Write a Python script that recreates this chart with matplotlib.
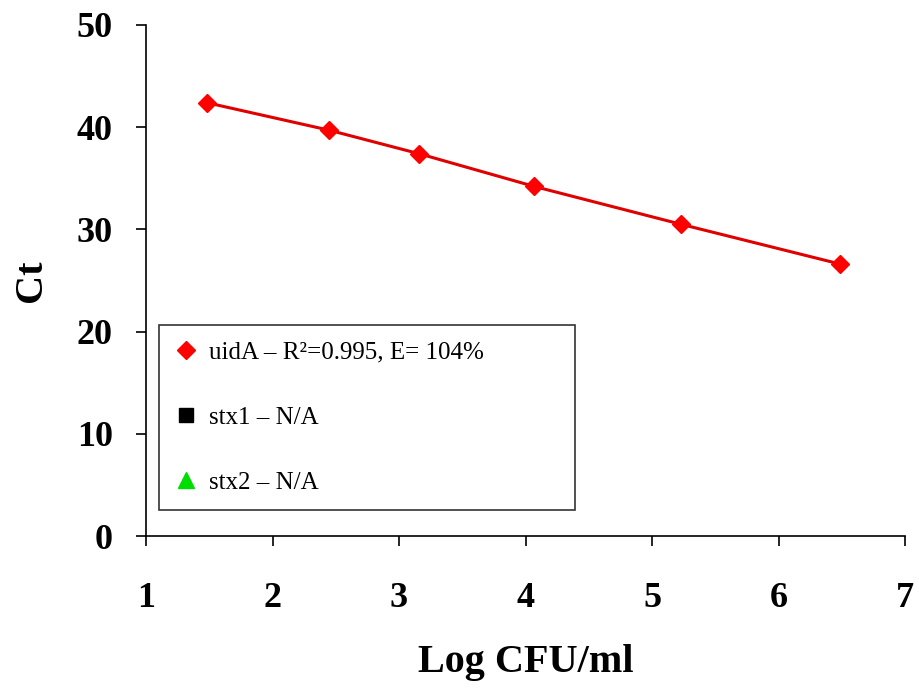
import matplotlib
matplotlib.use('Agg')
import matplotlib.pyplot as plt
from matplotlib.lines import Line2D

# standard curve data
log_cfu = [1.48, 2.45, 3.16, 4.07, 5.23, 6.49]
ct_uida = [42.4, 39.7, 37.4, 34.2, 30.5, 26.6]
ct_stx1 = []  # no amplification
ct_stx2 = []

labels = ['uidA \u2013 R\u00b2=0.995, E= 104%', 'stx1 \u2013 N/A', 'stx2 \u2013 N/A']

plt.rcParams['font.family'] = ['Liberation Serif', 'DejaVu Serif']

fig = plt.figure(figsize=(9.2, 6.92), dpi=100)
ax = fig.add_axes([0.1587, 0.2254, 0.825, 0.7385])

ax.plot(log_cfu, ct_uida, '-', color='#e00000', lw=2.2, marker='D',
        ms=9, mfc='red', mec='red', label=labels[0])
ax.plot(log_cfu[:len(ct_stx1)], ct_stx1, 's', color='black', ms=9, label=labels[1])
ax.plot(log_cfu[:len(ct_stx2)], ct_stx2, '^', color='#00dd00', ms=10, label=labels[2])

ax.set_xlim(1, 7)
ax.set_ylim(0, 50)
ax.set_xticks(range(1, 8))
ax.set_yticks(range(0, 51, 10))

ax.spines['top'].set_visible(False)
ax.spines['right'].set_visible(False)
for s in ['left', 'bottom']:
    ax.spines[s].set_linewidth(1.2)

ax.tick_params(axis='both', direction='out', length=7, width=1.2, labelsize=26)
ax.tick_params(axis='y', pad=17)
ax.tick_params(axis='x', pad=26)
for t in ax.get_xticklabels() + ax.get_yticklabels():
    t.set_fontweight('bold')

ax.set_xlabel('Log CFU/ml', fontsize=29, fontweight='bold', labelpad=21)
ax.set_ylabel('Ct', fontsize=29, fontweight='bold', labelpad=19)

# markers only in the legend
handles = [
    Line2D([], [], ls='none', marker='D', ms=9, color='red'),
    Line2D([], [], ls='none', marker='s', ms=10, color='black'),
    Line2D([], [], ls='none', marker='^', ms=11, color='#00dd00'),
]
leg = ax.legend(handles, labels, loc='lower left',
                bbox_to_anchor=(0.017, 0.051, 0.548, 0.366), mode='expand',
                borderaxespad=0, fontsize=18, frameon=True, fancybox=False,
                labelspacing=1.7, handletextpad=0.45, handlelength=0.9,
                borderpad=0.65)
leg.get_frame().set_edgecolor('black')
leg.get_frame().set_linewidth(1.2)

fig.savefig('out.png', dpi=100)
